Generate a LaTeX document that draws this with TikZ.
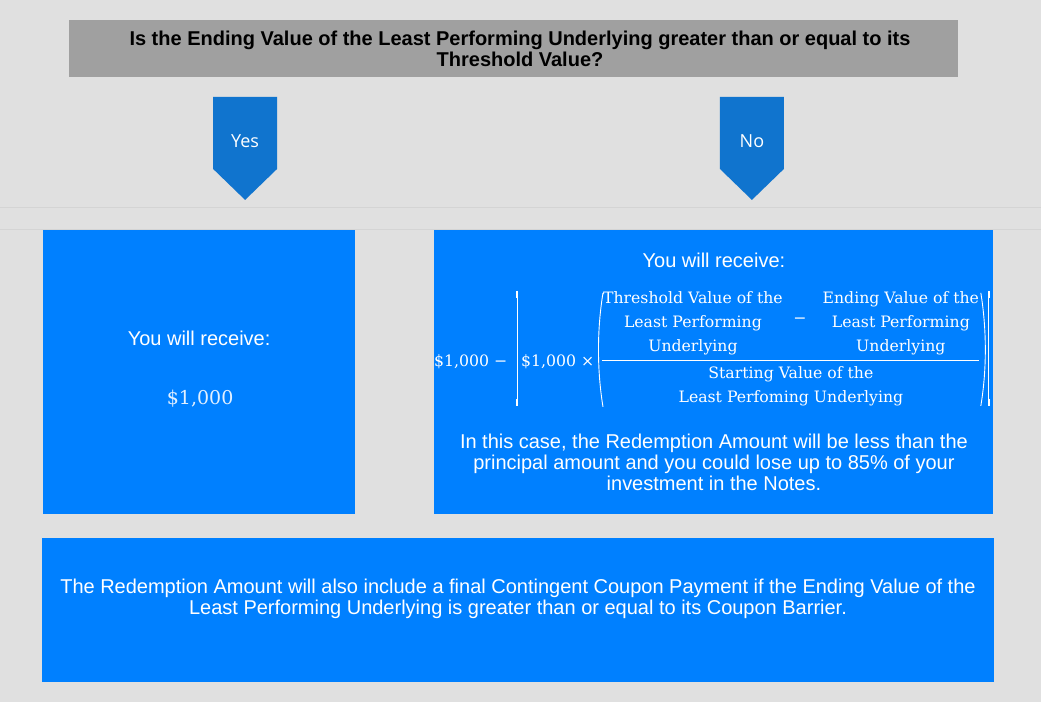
\documentclass[tikz,border=0pt]{standalone}
\usepackage{fontspec}
\setmainfont{Liberation Sans}
\newfontfamily\formfont{DejaVu Serif}
\newfontfamily\tabfont{Open Sans}
\usetikzlibrary{calc}
\definecolor{pagegray}{RGB}{224,224,224}
\definecolor{rulegray}{RGB}{212,212,212}
\definecolor{askgray}{RGB}{160,160,160}
\definecolor{boxblue}{RGB}{0,128,255}
\definecolor{tabblue}{RGB}{16,116,206}
\definecolor{sumwhite}{RGB}{226,240,255}
\def\downtab(#1)#2#3{\fill[tabblue] ($(#1)+(-32,0)$) -- ++(64,0) -- ++(0,72) -- ++(-32,31) -- ++(-32,-31) -- cycle;
	\node[tablabel] (#2) at ($(#1)+(0,44)$) {#3};}

\begin{document}
\begin{tikzpicture}[x=1pt,y=-1pt,
		tablabel/.style={font=\tabfont\fontsize{18}{20}\selectfont,text=white,inner sep=0pt},
		panel/.style={fill=boxblue,inner sep=0pt},
		sans/.style={font=\fontsize{20}{21}\selectfont,text=white,align=center,inner sep=0pt},
		formula/.style={font=\formfont\fontsize{15.7}{24}\selectfont,text=white,align=center,inner sep=0pt}]
				\fill[pagegray] (0,0) rectangle (1041,702);
				\draw[rulegray] (0,207) -- (1041,207);
				\draw[rulegray] (0,229) -- (1041,229);
				
				\node[fill=askgray,minimum width=889pt,minimum height=57pt,inner sep=0pt] (ask) at (513.5,48.5) {};
				\node[align=center,inner sep=0pt,font=\bfseries\fontsize{20}{21}\selectfont] (asktext) at (520,48.5) {Is the Ending Value of the Least Performing Underlying greater than or equal to its\\Threshold Value?};
				
				\downtab(245,97){yes}{Yes}
				\downtab(752,97){no}{No}
				
				\node[panel,minimum width=312pt,minimum height=284pt] (yesbox) at (199,372) {};
				\node[panel,minimum width=559pt,minimum height=284pt] (nobox) at (713.5,372) {};
				\node[panel,minimum width=952pt,minimum height=144pt] (couponbox) at (518,610) {};
				
				\node[sans] (yesget) at (199,338) {You will receive:};
				\node[font=\formfont\fontsize{19}{21}\selectfont,text=sumwhite,inner sep=0pt] (yessum) at (200,399) {\$1,000};
				
				\node[sans] (noget) at (714,260) {You will receive:};
				\node[formula,anchor=base west] (lead) at (434,367) {\$1,000 −};
				\node[formula,anchor=base west] (times) at (521,367) {\$1,000 ×};
				\node[formula] (thresh) at (693,323) {Threshold Value of the\\Least Performing\\Underlying};
				\node[formula] (minus) at (800,321) {−};
				\node[formula] (ending) at (901,323) {Ending Value of the\\Least Performing\\Underlying};
				\node[formula] (start) at (791,386) {Starting Value of the\\Least Perfoming Underlying};
				\draw[white,line width=0.8pt] (602,361) -- (979,361);
				
				% brackets and parentheses
				\draw[white,line width=0.9pt] (517,291) -- (517,406);
				\draw[white,line width=2.4pt] (517,291) -- (517,298);
				\draw[white,line width=2.4pt] (517,399) -- (517,406);
				\draw[white,line width=0.9pt] (989,291) -- (989,406);
				\draw[white,line width=2.4pt] (989,291) -- (989,298);
				\draw[white,line width=2.4pt] (989,399) -- (989,406);
				\draw[white,line width=0.9pt] (603,293) .. controls (597,330) and (597,370) .. (603,407);
				\draw[white,line width=0.9pt] (981,293) .. controls (987,330) and (987,370) .. (981,406);
				
				\node[sans] (loss) at (714,463) {In this case, the Redemption Amount will be less than the\\principal amount and you could lose up to 85\% of your\\investment in the Notes.};
				
				\node[sans] (coupon) at (518,599.5) {The Redemption Amount will also include a final Contingent Coupon Payment if the Ending Value of the\\Least Performing Underlying is greater than or equal to its Coupon Barrier.};
			\end{tikzpicture}
\end{document}
